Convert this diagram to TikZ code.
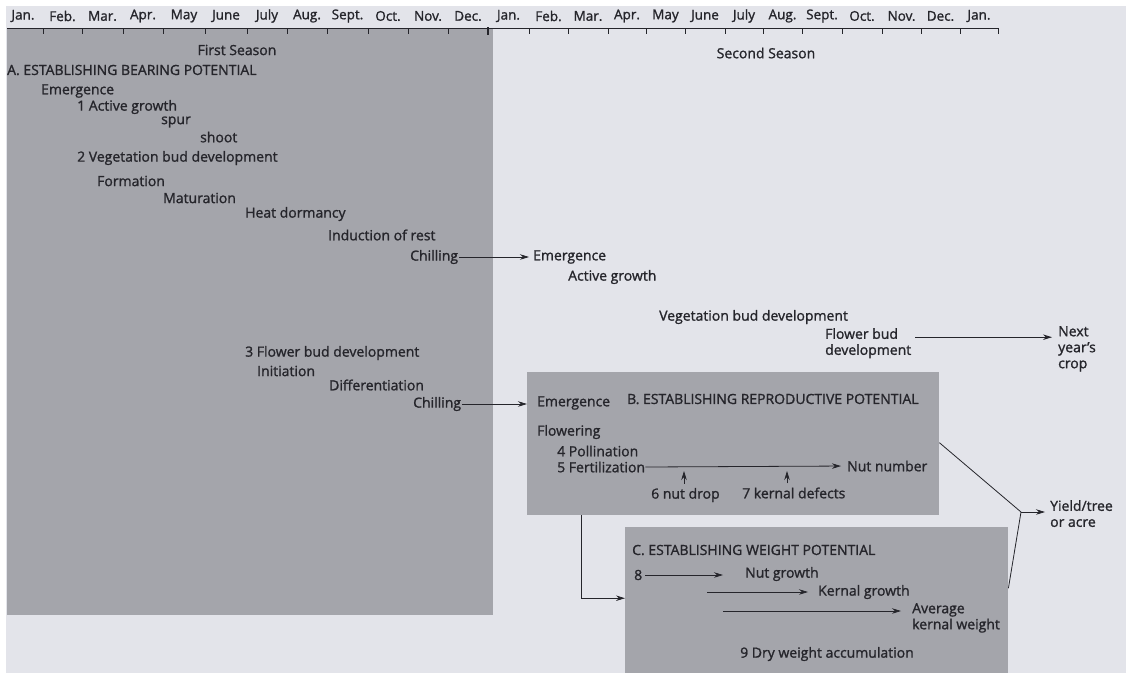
\documentclass[tikz,border=0pt]{standalone}
\usepackage{fontspec}
\setmainfont{Open Sans}[BoldFont={Open Sans}, BoldFeatures={FakeBold=1.3}]
\usetikzlibrary{arrows.meta}
\definecolor{pagebg}{HTML}{E3E4EA}
\definecolor{boxgray}{HTML}{A4A5AB}
\definecolor{ink}{HTML}{25252B}
\tikzset{
  lbl/.style={inner sep=0pt, anchor=west, text=ink, font=\fontsize{14}{16}\selectfont\bfseries},
  mlbl/.style={lbl, align=left},
  mon/.style={inner sep=0pt, anchor=center, text=ink, font=\fontsize{13.5}{15}\selectfont\bfseries},
  panel/.style={draw=none, fill=boxgray, inner sep=0pt, anchor=north west},
  arr/.style={draw=ink, line width=0.8pt, -{Stealth[length=9pt,width=5.5pt]}},
  ln/.style={draw=ink, line width=0.8pt},
}
\begin{document}
\begin{tikzpicture}[x=1pt,y=-1pt]
\useasboundingbox (0,0) rectangle (1126,673);
\fill[white] (0,0) rectangle (1126,673);
\fill[pagebg] (6,6) rectangle (1126,673);
% panels
\node[panel, minimum width=486pt, minimum height=587pt] (boxA) at (7,28) {};
\node[panel, minimum width=412pt, minimum height=143pt] (boxB) at (527,372) {};
\node[panel, minimum width=383pt, minimum height=146pt] (boxC) at (625,527) {};
% ruler
\coordinate (r0) at (7,28);
\coordinate (r1) at (998,28);
\draw[ln] (r0) -- (r1);
\foreach \a/\b/\m [count=\i] in {3/43/Jan., 43/82/Feb., 82/123/Mar., 123/163/Apr., 163/205/May, 205/247/June, 247/287/July, 287/327/Aug., 327/368/Sept., 368/408/Oct., 408/448/Nov., 448/488/Dec., 488/529/Jan., 529/568/Feb., 568/608/Mar., 608/646/Apr., 646/685/May, 685/725/June, 725/763/July, 763/802/Aug., 802/842/Sept., 842/882/Oct., 882/921/Nov., 921/960/Dec., 960/998/Jan.}{
  \node[mon] (m\i) at ({(\a+\b)/2},16) {\m};
  \draw[ln] (\b,28) -- (\b,34);
}
\draw[draw=ink, line width=2pt] (488,27) -- (488,35);
% season labels
\node[mon, font=\fontsize{14}{16}\selectfont\bfseries] (s1) at (237,50) {First Season};
\node[mon, font=\fontsize{14}{16}\selectfont\bfseries] (s2) at (766,53) {Second Season};
% panel A texts
\node[lbl] (titA) at (7,70) {A. ESTABLISHING BEARING POTENTIAL};
\node[lbl] (emA) at (41,91) {Emergence};
\node[lbl] (ag1) at (77,107) {1 Active growth};
\node[lbl] (spur) at (161,122) {spur};
\node[lbl] (shoot) at (200,137) {shoot};
\node[lbl] (vbd) at (77,158) {2 Vegetation bud development};
\node[lbl] (form) at (97,181) {Formation};
\node[lbl] (mat) at (163,198) {Maturation};
\node[lbl] (heat) at (245,214) {Heat dormancy};
\node[lbl] (ind) at (328,235) {Induction of rest};
\node[lbl] (chA) at (410,257) {Chilling};
\node[lbl] (fbd3) at (245,353) {3 Flower bud development};
\node[lbl] (init) at (257,371) {Initiation};
\node[lbl] (diff) at (329,385) {Differentiation};
\node[lbl] (chB) at (413,404) {Chilling};
% second season texts
\node[lbl] (em2) at (533,257) {Emergence};
\node[lbl] (ag2) at (568,277) {Active growth};
\node[lbl] (vbd2) at (659,317) {Vegetation bud development};
\node[mlbl, anchor=north west] (fbd) at (825,328) {Flower bud\\development};
\node[mlbl, anchor=north west] (nyc) at (1058,326) {Next\\year's\\crop};
% panel B texts
\node[lbl] (emB) at (537,403) {Emergence};
\node[lbl] (titB) at (627,399) {B. ESTABLISHING REPRODUCTIVE POTENTIAL};
\node[lbl] (flw) at (537,432) {Flowering};
\node[lbl] (pol) at (557,451) {4 Pollination};
\node[lbl] (fert) at (557,467) {5 Fertilization};
\node[lbl] (nutn) at (847,466) {Nut number};
\node[lbl] (nd) at (651,495) {6 nut drop};
\node[lbl] (kd) at (742,493) {7 kernal defects};
% yield
\node[mlbl, anchor=north west] (yl) at (1050,500) {Yield/tree\\or acre};
% panel C texts
\node[lbl] (titC) at (632,550) {C. ESTABLISHING WEIGHT POTENTIAL};
\node[lbl] (n8) at (634,575) {8};
\node[lbl] (ng) at (745,574) {Nut growth};
\node[lbl] (kg) at (818,592) {Kernal growth};
\node[mlbl, anchor=north west] (aw) at (912,603) {Average\\kernal weight};
\node[lbl] (dwa) at (740,654) {9 Dry weight accumulation};
% connectors
\draw[arr, shorten <=1pt, shorten >=4pt] (chA.east) -- (em2.west);
\draw[arr, shorten <=1pt] (chB.east) -- (chB.east -| boxB.west);
\coordinate (fa) at ([xshift=4pt,yshift=6pt]fbd.east);
\draw[arr, shorten >=6pt] (fa) -- (fa -| nyc.west);
\draw[arr, shorten <=0pt, shorten >=6pt] (fert.east) -- (nutn.west);
\coordinate (u6) at (684,467);
\coordinate (u7) at (787,467);
\draw[arr, shorten <=4pt, shorten >=4pt] (u6 |- nd.north) -- (u6);
\draw[arr, shorten <=4pt, shorten >=4pt] (u7 |- kd.north) -- (u7);
\coordinate (j) at (1021,512);
\draw[ln] ([yshift=1pt]boxB.east) -- (j);
\draw[ln] ([yshift=12pt]boxC.east) -- (j);
\draw[arr, shorten >=5pt] (j) -- (j -| yl.west);
\draw[arr] ([xshift=54pt]boxB.south west) |- ([yshift=2pt]boxC.west);
\draw[arr, shorten <=3pt, shorten >=22pt] (n8.east) -- (n8.east -| ng.west);
\coordinate (k0) at (707,592);
\draw[arr, shorten >=10pt] (k0) -- (k0 -| kg.west);
\coordinate (a0) at (723,611);
\draw[arr, shorten >=11pt] (a0) -- (a0 -| aw.west);
\end{tikzpicture}
\end{document}
